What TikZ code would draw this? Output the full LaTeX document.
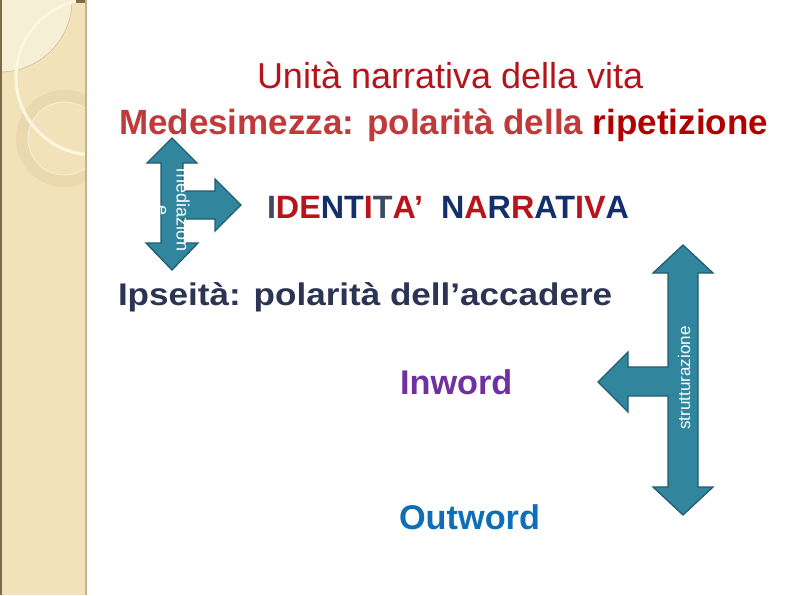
\documentclass[tikz,border=0pt]{standalone}
\usepackage{fontspec}
\setmainfont{Liberation Sans}
\newfontfamily\wideface[FakeStretch=1.12]{Liberation Sans}
\usepackage{tikz}
\usetikzlibrary{positioning}

\definecolor{stripbeige}{HTML}{F1E2BA}
\definecolor{stripring}{HTML}{EAD9AF}
\definecolor{stripedge}{HTML}{C6B189}
\definecolor{stripdark}{HTML}{7D6A48}
\definecolor{creamarc}{HTML}{FDF7DF}
\definecolor{titlered}{HTML}{B3151B}
\definecolor{medred}{HTML}{C0393B}
\definecolor{ripred}{HTML}{B00000}
\definecolor{idred}{HTML}{B8141B}
\definecolor{idnavy}{HTML}{13306B}
\definecolor{idslate}{HTML}{3C4A63}
\definecolor{ipsnavy}{HTML}{2B3452}
\definecolor{inpurple}{HTML}{7030A0}
\definecolor{outblue}{HTML}{0E6FB8}
\definecolor{arrowteal}{HTML}{31859C}
\definecolor{arrowedge}{HTML}{205E70}

\def\colR#1{\textcolor{idred}{#1}}
\def\colN#1{\textcolor{idnavy}{#1}}
\def\colS#1{\textcolor{idslate}{#1}}

\begin{document}
\begin{tikzpicture}[x=1pt, y=-1pt,
              every node/.style = {inner sep=0pt, outer sep=0pt},
              blockarrow/.style = {fill=arrowteal, draw=arrowedge,
                line width=1.3pt, line join=miter},
              sidetext/.style = {text=white, align=center},
              bigtext/.style = {anchor=base west, font=\bfseries\fontsize{34.3}{38}\selectfont}]
  \useasboundingbox (0,0) rectangle (794,595);
  \fill[white] (0,0) rectangle (794,595);

  % decorated strip on the left
  \fill[stripbeige] (0,0) rectangle (86,595);
  \begin{scope}
    \clip (0,0) rectangle (86,595);
    \fill[stripbeige!60!white] (0,0) circle [radius=72pt];
    \draw[stripedge, line width=0.4pt] (0,0) circle [radius=72pt];
    \draw[stripring, line width=12pt] (64.5,138.5) circle [radius=42.5pt];
    \draw[stripbeige!50!white, line width=0.8pt] (64.5,138.5) circle [radius=36.5pt];
    \draw[creamarc, line width=3pt] (94,77) circle [radius=78pt];
  \end{scope}
  \fill[stripdark] (0,0) rectangle (1.5,595);
  \fill[stripdark] (76,0) rectangle (86,2.5);
  \draw[stripedge, line width=1.5pt] (86,0) -- (86,595);

  % titles
  \node[anchor=base west, text=titlered, font=\fontsize{36}{40}\selectfont]
    (unita) at (257,88) {Unità narrativa della vita};
  \node[anchor=base west, font=\bfseries\fontsize{35}{40}\selectfont]
    (medes) at (119,134) {\textcolor{medred}{Medesimezza: polarità della} \textcolor{ripred}{ripetizione}};

  % upper arrow: mediazione
  \draw[blockarrow] (172,138) -- (197,163) -- (183,163) -- (183,191) -- (215,191)
    -- (215,179) -- (241,205) -- (215,231) -- (215,219) -- (183,219) -- (183,243)
    -- (198,243) -- (172,270) -- (146,243) -- (161,243) -- (161,163) -- (147,163) -- cycle;
  \node[sidetext, rotate=-90, font=\fontsize{18}{20}\selectfont]
    (mediaz) at (173,210) {mediazion\\e};

  \node[anchor=base west, font=\bfseries\fontsize{32.3}{36}\selectfont]
    (ident) at (267,218) {\colS{I}\colR{DE}\colN{NT}\colR{I}\colS{T}\colR{A’}~~%
      \colN{N}\colR{A}\colN{R}\colR{R}\colN{AT}\colR{IV}\colN{A}};

  \node[anchor=base west, text=ipsnavy, font=\wideface\bfseries\fontsize{31.3}{36}\selectfont]
    (ipse) at (118,305) {Ipseità: polarità dell’accadere};

  % lower arrow: strutturazione
  \draw[blockarrow] (683,245) -- (713,273) -- (698,273) -- (698,487) -- (713,487)
    -- (683,515) -- (653,487) -- (668,487) -- (668,396) -- (628,396) -- (628,412)
    -- (598,382) -- (628,352) -- (628,367) -- (668,367) -- (668,273) -- (653,273) -- cycle;
  \node[sidetext, rotate=90, font=\fontsize{17}{19}\selectfont]
    (strutt) at (684,378) {strutturazione};

  \node[bigtext, text=inpurple] (inword) at (400,394) {Inword};
  \node[bigtext, text=outblue] (outword) at (399,529) {Outword};
\end{tikzpicture}
\end{document}
